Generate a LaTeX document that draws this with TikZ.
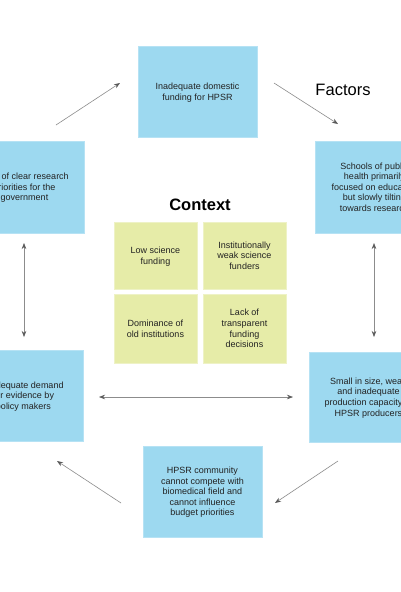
\documentclass[tikz,border=0pt]{standalone}
\usepackage{fontspec}
\setmainfont{Liberation Sans}
\usetikzlibrary{arrows.meta}
\definecolor{boxblue}{HTML}{9DD9F0}
\definecolor{boxblueedge}{HTML}{B6E2F4}
\definecolor{boxyellow}{HTML}{E6ECA8}
\definecolor{boxyellowedge}{HTML}{EEF2C6}
\definecolor{arrowgray}{HTML}{8C8C8C}
\definecolor{tipgray}{HTML}{5A5A5A}
\definecolor{txt}{HTML}{222222}
\begin{document}
\begin{tikzpicture}[x=1pt,y=-1pt,
  bluebox/.style={fill=boxblue, draw=boxblueedge, line width=0.8pt, minimum width=119pt, minimum height=91pt, inner sep=0pt, text depth=0pt, align=center, text=txt, font=\fontsize{9}{10.6}\selectfont},
  yellowbox/.style={fill=boxyellow, draw=boxyellowedge, line width=0.8pt, minimum width=83pt, minimum height=67pt, inner sep=0pt, text depth=0pt, align=center, text=txt, font=\fontsize{9}{10.6}\selectfont},
  conn/.style={draw=arrowgray, line width=0.6pt, -{Stealth[length=6pt,width=4.5pt,color=tipgray]}},
  biconn/.style={draw=arrowgray, line width=0.6pt, {Stealth[length=6pt,width=4.5pt,color=tipgray]}-{Stealth[length=6pt,width=4.5pt,color=tipgray]}},
  heading/.style={font=\fontsize{16.5}{19}\selectfont, text=black, inner sep=0pt}
]
\useasboundingbox (0,0) rectangle (400,592);
\fill[white] (0,0) rectangle (400,592);

% factor boxes
\node[bluebox] (top) at (197.5,91.5) {Inadequate domestic\\funding for HPSR};
\node[bluebox, minimum height=92pt] (lt) at (24.5,187) {Lack of clear research\\priorities for the\\government};
\node[bluebox, minimum height=92pt] (rt) at (374.5,187) {Schools of public\\health primarily\\focused on education\\but slowly tilting\\towards research};
\node[bluebox] (lb) at (23.5,395.5) {Inadequate demand\\for evidence by\\policy makers};
\node[bluebox, minimum height=90pt] (rb) at (368.5,397) {Small in size, weak\\and inadequate\\production capacity of\\HPSR producers};
\node[bluebox] (bot) at (202.5,491.5) {HPSR community\\cannot compete with\\biomedical field and\\cannot influence\\budget priorities};

% headings
\node[heading] (factors) at (343,90) {Factors};
\node[heading, font=\bfseries\fontsize{16.5}{19}\selectfont] (context) at (200,205) {Context};

% context boxes
\node[yellowbox] (c1) at (155.5,255.5) {Low science\\funding};
\node[yellowbox] (c2) at (244.5,255.5) {Institutionally\\weak science\\funders};
\node[yellowbox, minimum height=69pt] (c3) at (155.5,328.5) {Dominance of\\old institutions};
\node[yellowbox, minimum height=69pt] (c4) at (244.5,328.5) {Lack of\\transparent\\funding\\decisions};

% arrow endpoints
\coordinate (a1s) at (56,125);
\coordinate (a1e) at (120,83);
\coordinate (a2s) at (274,83);
\coordinate (a2e) at (338,124);
\coordinate (a3s) at (338,461);
\coordinate (a3e) at (275,503);
\coordinate (a4s) at (121,503);
\coordinate (a4e) at (57,461);
\coordinate (v1s) at (24,243);
\coordinate (v1e) at (24,337);
\coordinate (v2s) at (374,243);
\coordinate (v2e) at (374,337);
\coordinate (hs) at (99,397);
\coordinate (he) at (293,397);

\draw[conn] (a1s) -- (a1e);
\draw[conn] (a2s) -- (a2e);
\draw[conn] (a3s) -- (a3e);
\draw[conn] (a4s) -- (a4e);
\draw[biconn] (v1s) -- (v1e);
\draw[biconn] (v2s) -- (v2e);
\draw[biconn] (hs) -- (he);
\end{tikzpicture}
\end{document}
